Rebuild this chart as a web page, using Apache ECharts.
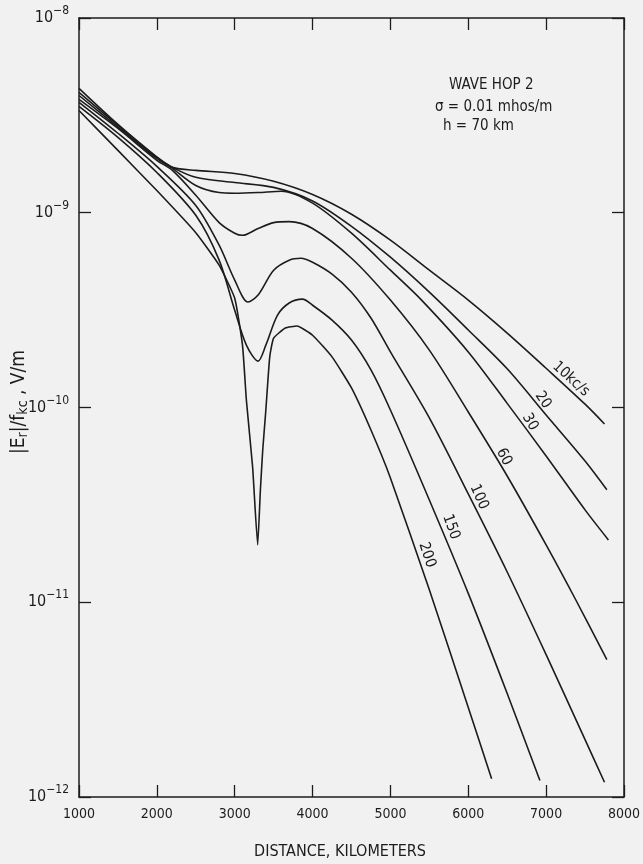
<!DOCTYPE html>
<html>
<head>
<meta charset="utf-8">
<script src="https://cdn.jsdelivr.net/npm/echarts@6/dist/echarts.min.js"></script>
<style>
  html, body { margin: 0; padding: 0; background: #f1f1f1; }
  #chart { width: 643px; height: 864px; }
</style>
</head>
<body>
<div id="chart"></div>
<script>
// distance, km  /  |Er|/fkc, V/m
const dist10 = [1000, 1500, 2000, 2200, 2500, 3000, 3500, 4000, 4500, 5000, 5500, 6000, 6500, 7000, 7500, 7750]
const field10 = [4.0e-9, 2.75e-9, 1.90e-9, 1.71e-9, 1.65e-9, 1.59e-9, 1.45e-9, 1.24e-9, 9.82e-10, 7.23e-10, 5.07e-10, 3.56e-10, 2.41e-10, 1.59e-10, 1.04e-10, 8.23e-11]

const dist20 = [1000, 1500, 2000, 2200, 2500, 3000, 3500, 4000, 4500, 5000, 5500, 6000, 6500, 7000, 7500, 7780]
const field20 = [4.15e-9, 2.81e-9, 1.93e-9, 1.71e-9, 1.52e-9, 1.43e-9, 1.35e-9, 1.15e-9, 8.52e-10, 5.91e-10, 3.91e-10, 2.50e-10, 1.58e-10, 9.15e-11, 5.31e-11, 3.78e-11]

const dist30 = [1000, 1500, 2000, 2200, 2500, 2800, 3000, 3300, 3600, 4000, 4500, 5000, 5400, 6000, 6500, 7000, 7500, 7800]
const field30 = [4.35e-9, 2.84e-9, 1.93e-9, 1.69e-9, 1.38e-9, 1.27e-9, 1.26e-9, 1.27e-9, 1.29e-9, 1.12e-9, 7.85e-10, 5.07e-10, 3.56e-10, 1.93e-10, 1.05e-10, 5.64e-11, 2.98e-11, 2.09e-11]

const dist60 = [1000, 1500, 2000, 2200, 2500, 2800, 3000, 3100, 3300, 3500, 3700, 4000, 4500, 5000, 5500, 6000, 6500, 7000, 7380, 7780]
const field60 = [3.82e-9, 2.71e-9, 1.86e-9, 1.65e-9, 1.23e-9, 8.9e-10, 7.85e-10, 7.66e-10, 8.3e-10, 8.9e-10, 9.0e-10, 8.3e-10, 5.84e-10, 3.56e-10, 1.97e-10, 9.48e-11, 4.45e-11, 1.97e-11, 1.03e-11, 5.07e-12]

const dist100 = [1000, 1500, 2000, 2500, 2800, 3000, 3170, 3300, 3500, 3700, 3850, 4000, 4250, 4500, 4750, 5000, 5500, 6000, 6500, 7000, 7500, 7750]
const field100 = [3.69e-9, 2.56e-9, 1.73e-9, 1.09e-9, 6.81e-10, 4.51e-10, 3.48e-10, 3.78e-10, 5.07e-10, 5.71e-10, 5.84e-10, 5.57e-10, 4.84e-10, 3.91e-10, 2.88e-10, 1.93e-10, 8.84e-11, 3.60e-11, 1.43e-11, 5.38e-12, 1.97e-12, 1.19e-12]

const dist150 = [1000, 1500, 2000, 2500, 2800, 3000, 3150, 3300, 3400, 3550, 3700, 3870, 4000, 4250, 4500, 4750, 5000, 5500, 6000, 6500, 6920]
const field150 = [3.52e-9, 2.44e-9, 1.61e-9, 9.7e-10, 5.71e-10, 3.16e-10, 2.09e-10, 1.73e-10, 2.09e-10, 2.98e-10, 3.44e-10, 3.60e-10, 3.35e-10, 2.81e-10, 2.22e-10, 1.56e-10, 9.71e-11, 3.35e-11, 1.11e-11, 3.40e-12, 1.215e-12]

const dist200 = [1000, 1500, 2000, 2500, 2800, 3000, 3100, 3150, 3230, 3295, 3330, 3360, 3400, 3450, 3500, 3650, 3800, 4000, 4250, 4500, 4750, 5000, 5500, 6000, 6300]
const field200 = [3.35e-9, 2.09e-9, 1.30e-9, 7.9e-10, 5.38e-10, 3.64e-10, 2.09e-10, 1.09e-10, 4.95e-11, 1.97e-11, 3.78e-11, 6.05e-11, 9.71e-11, 1.82e-10, 2.27e-10, 2.56e-10, 2.62e-10, 2.35e-10, 1.82e-10, 1.26e-10, 7.66e-11, 4.35e-11, 1.16e-11, 2.88e-12, 1.24e-12]

const curves = [
  { dist: dist10, field: field10 },
  { dist: dist20, field: field20 },
  { dist: dist30, field: field30 },
  { dist: dist60, field: field60 },
  { dist: dist100, field: field100 },
  { dist: dist150, field: field150 },
  { dist: dist200, field: field200 }
]

const curveLabels = ['10kc/s', '20', '30', '60', '100', '150', '200']
const noteLines = ['WAVE HOP 2', 'σ = 0.01 mhos/m', 'h = 70 km']
const xTitle = 'DISTANCE, KILOMETERS'

const FONT = '"Liberation Sans Narrow", "DejaVu Sans Condensed", "Liberation Sans", sans-serif'
const INK = '#1c1c1c'

// where each frequency label sits, and how much it is turned
const labelPlace = [
  { x: 571, y: 379, rot: -42 },
  { x: 543, y: 400, rot: -55 },
  { x: 530, y: 422, rot: -60 },
  { x: 504, y: 457, rot: -62 },
  { x: 479, y: 497, rot: -66 },
  { x: 451, y: 527, rot: -70 },
  { x: 427, y: 555, rot: -72 }
]

const chart = echarts.init(document.getElementById('chart'))

const powLabel = v => {
  const e = Math.round(Math.log10(v))
  return '{b|10}{s|−' + Math.abs(e) + '}'
}

const tickStyle = { inside: true, length: 12, lineStyle: { color: INK, width: 1.3 } }
const lineAx = { show: true, lineStyle: { color: INK, width: 1.5 } }

const graphics = []
curveLabels.forEach((t, i) => {
  const p = labelPlace[i]
  graphics.push({
    type: 'text',
    x: p.x, y: p.y,
    rotation: p.rot * Math.PI / 180,
    style: { text: t, fontSize: 15, fontFamily: FONT, fill: INK, align: 'center', verticalAlign: 'middle' }
  })
})
graphics.push({
  type: 'text', x: 449, y: 85,
  style: { text: noteLines[0], fontSize: 15, fontFamily: FONT, fill: INK, verticalAlign: 'middle' }
})
graphics.push({
  type: 'text', x: 435, y: 107,
  style: { text: noteLines[1], fontSize: 15, fontFamily: FONT, fill: INK, verticalAlign: 'middle' }
})
graphics.push({
  type: 'text', x: 443, y: 126,
  style: { text: noteLines[2], fontSize: 15, fontFamily: FONT, fill: INK, verticalAlign: 'middle' }
})
// y axis title, turned on its side
graphics.push({
  type: 'text', x: 19, y: 402,
  rotation: Math.PI / 2,
  style: {
    text: '{m||E}{u|r}{m||/f}{u|kc}{m| , V/m}',
    align: 'center', verticalAlign: 'middle',
    rich: {
      m: { fontSize: 19, fontFamily: FONT, fill: INK, color: INK },
      u: { fontSize: 14, fontFamily: FONT, fill: INK, color: INK, padding: [9, 0, 0, 0] }
    }
  }
})
graphics.push({
  type: 'text', x: 340, y: 852,
  style: { text: xTitle, fontSize: 16, fontFamily: FONT, fill: INK, align: 'center', verticalAlign: 'middle' }
})

const option = {
  backgroundColor: '#f1f1f1',
  animation: false,
  grid: { left: 79, right: 18, top: 18, bottom: 67, containLabel: false },
  xAxis: [
    {
      type: 'value', min: 1000, max: 8000, interval: 1000,
      axisLine: lineAx, axisTick: tickStyle, splitLine: { show: false },
      axisLabel: { color: INK, fontSize: 14, fontFamily: FONT, margin: 10, formatter: v => String(v) }
    },
    {
      type: 'value', position: 'top', min: 1000, max: 8000, interval: 1000,
      axisLine: lineAx, axisTick: tickStyle, splitLine: { show: false },
      axisLabel: { show: false }
    }
  ],
  yAxis: [
    {
      type: 'log', logBase: 10, min: 1e-12, max: 1e-8,
      axisLine: lineAx, axisTick: tickStyle, splitLine: { show: false },
      axisLabel: {
        margin: 10,
        formatter: powLabel,
        rich: {
          b: { fontSize: 16, fontFamily: FONT, color: INK },
          s: { fontSize: 12, fontFamily: FONT, color: INK, padding: [0, 0, 14, 0] }
        }
      }
    },
    {
      type: 'log', logBase: 10, min: 1e-12, max: 1e-8, position: 'right',
      axisLine: lineAx, axisTick: tickStyle, splitLine: { show: false },
      axisLabel: { show: false }
    }
  ],
  series: curves.map((c, i) => ({
    type: 'line',
    xAxisIndex: 0,
    yAxisIndex: 0,
    data: c.dist.map((d, j) => [d, c.field[j]]),
    showSymbol: false,
    smooth: i === 6 ? 0.15 : 0.3,
    lineStyle: { color: INK, width: 1.6 }
  })),
  graphic: graphics
}

chart.setOption(option)
</script>
</body>
</html>
